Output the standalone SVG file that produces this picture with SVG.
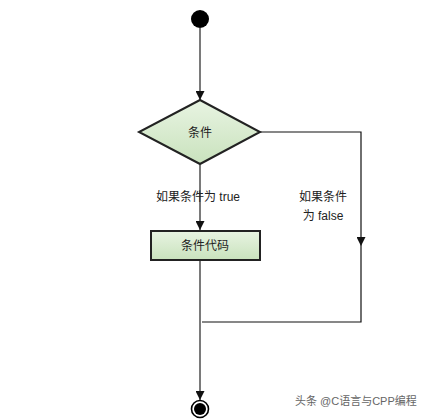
<svg xmlns="http://www.w3.org/2000/svg" width="430" height="419" viewBox="0 0 430 419">
<style>
text{font-family:"Liberation Sans","Noto Sans CJK SC",sans-serif;font-size:12px;fill:#222}
.g{stroke:#7a7a7a;stroke-width:2;fill:none}
.k{stroke:#111;stroke-width:1.2;fill:none}
.node{fill:#d9ecd0;stroke:#222;stroke-width:2}
</style>
<defs>
<marker id="ah" viewBox="0 0 10 10" refX="10" refY="5" markerWidth="9" markerHeight="9" markerUnits="userSpaceOnUse" orient="auto"><path d="M0,0L10,5L0,10z" fill="#111"/></marker>
<linearGradient id="gr" x1="0" y1="0" x2="0" y2="1"><stop offset="0" stop-color="#e8f4e2"/><stop offset="1" stop-color="#c9e2bd"/></linearGradient>
</defs>
<rect width="430" height="419" fill="#fff"/>
<g id="connectors">
<path class="g" d="M200,28V100" marker-end="url(#ah)"/>
<path class="g" d="M200,165V230" marker-end="url(#ah)"/>
<path class="k" d="M260,132H361V246" marker-end="url(#ah)"/>
<path class="k" d="M361,246V322H202"/>
<path class="g" d="M200,260V400" marker-end="url(#ah)"/>
<text x="198" y="201" text-anchor="middle">如果条件为 true</text>
<text x="323" y="201" text-anchor="middle">如果条件</text>
<text x="323" y="220" text-anchor="middle">为 false</text>
</g>
<g id="start"><circle cx="200" cy="19" r="9" fill="#000"/></g>
<g id="cond">
<path class="node" d="M200,100L260,132L200,164L139,132z" fill="url(#gr)" style="fill:url(#gr)"/>
<text x="200" y="137" text-anchor="middle">条件</text>
</g>
<g id="code">
<rect class="node" x="151" y="231" width="109" height="29" style="fill:url(#gr)"/>
<text x="205" y="250" text-anchor="middle">条件代码</text>
</g>
<g id="end">
<circle cx="200" cy="409" r="8.5" fill="#fff" stroke="#000" stroke-width="1.6"/>
<circle cx="200" cy="409" r="6" fill="#000"/>
</g>
<text x="295" y="405" style="font-size:11px;fill:#666">头条 @C语言与CPP编程</text>
</svg>
